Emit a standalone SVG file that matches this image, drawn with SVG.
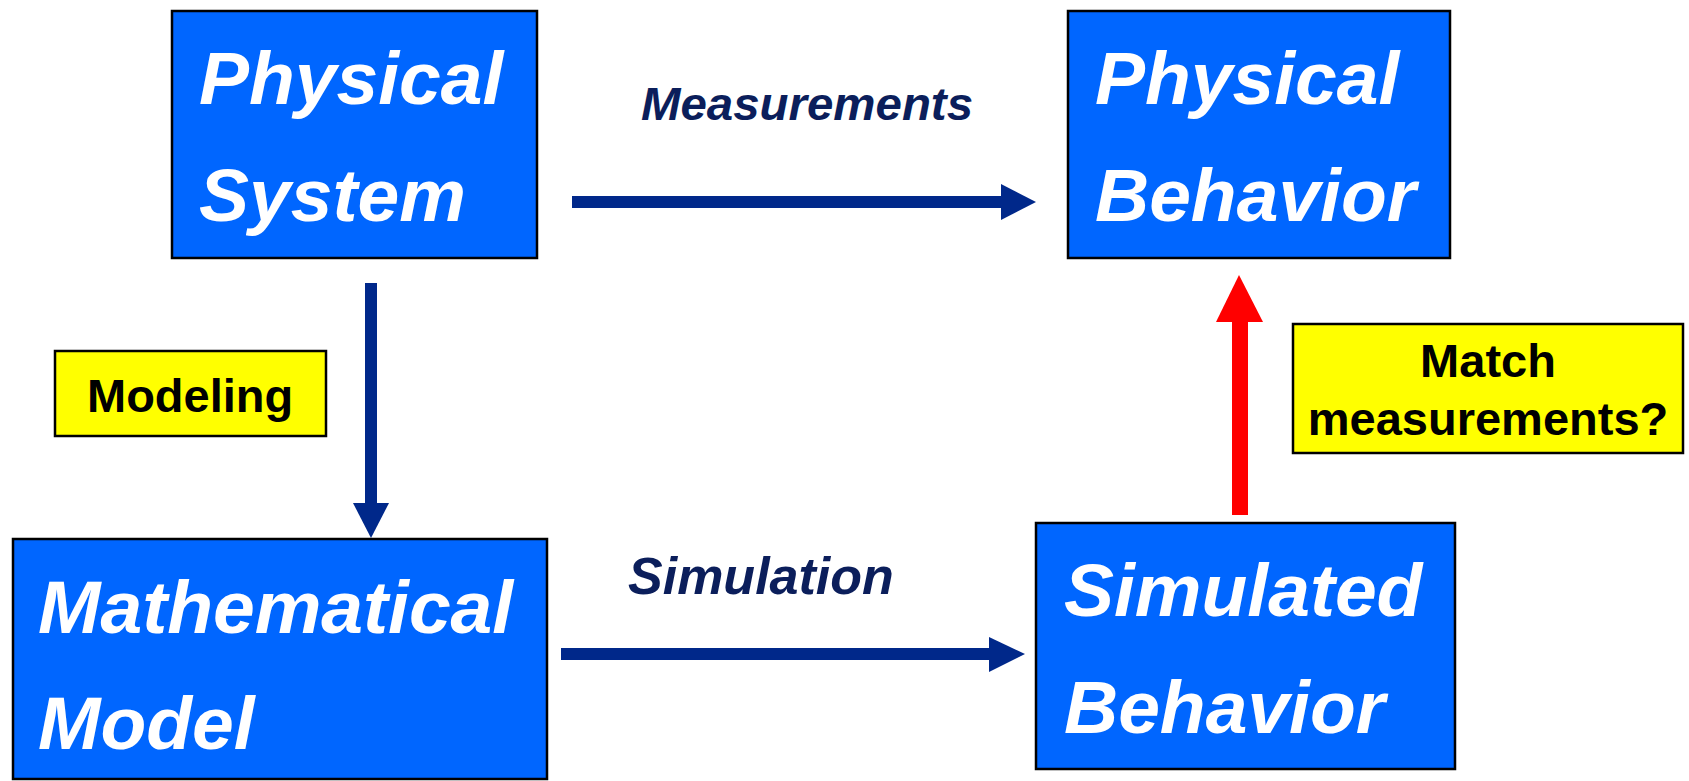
<svg xmlns="http://www.w3.org/2000/svg" width="1689" height="781" viewBox="0 0 1689 781">
  <style>
    .box { fill: #0066FF; stroke: #000; stroke-width: 2.5; }
    .note { fill: #FFFF00; stroke: #000; stroke-width: 2.5; }
    .big { font-family: "Liberation Sans", Arial, sans-serif; font-weight: bold; font-style: italic; font-size: 75px; fill: #fff; }
    .lbl { font-family: "Liberation Sans", Arial, sans-serif; font-weight: bold; font-style: italic; fill: #0B1E5B; }
    .ntxt { font-family: "Liberation Sans", Arial, sans-serif; font-weight: bold; font-size: 47px; fill: #000; }
    .navy { fill: #00288A; }
    .red { fill: #FF0000; }
  </style>
  <rect width="1689" height="781" fill="#fff"/>
  <g id="connectors">
    <g id="measurements-arrow">
      <rect class="navy" x="572" y="196" width="430" height="12"/>
      <polygon class="navy" points="1001,184 1036,202 1001,220"/>
      <text class="lbl" x="641" y="120" font-size="47" textLength="332" lengthAdjust="spacingAndGlyphs">Measurements</text>
    </g>
    <g id="simulation-arrow">
      <rect class="navy" x="561" y="648" width="429" height="12"/>
      <polygon class="navy" points="989,637 1025,654 989,672"/>
      <text class="lbl" x="628" y="594" font-size="52">Simulation</text>
    </g>
    <g id="modeling-arrow">
      <rect class="navy" x="365" y="283" width="12" height="221"/>
      <polygon class="navy" points="353,503 389,503 371,538"/>
    </g>
    <g id="match-arrow">
      <rect class="red" x="1232" y="320" width="16" height="195"/>
      <polygon class="red" points="1216,322 1263,322 1239,275"/>
    </g>
  </g>
  <g id="physical-system">
    <rect class="box" x="172" y="11" width="365" height="247"/>
    <text class="big" x="199" y="104">Physical</text>
    <text class="big" x="199" y="221">System</text>
  </g>
  <g id="physical-behavior">
    <rect class="box" x="1068" y="11" width="382" height="247"/>
    <text class="big" x="1095" y="104">Physical</text>
    <text class="big" x="1095" y="221">Behavior</text>
  </g>
  <g id="mathematical-model">
    <rect class="box" x="13" y="539" width="534" height="240"/>
    <text class="big" x="38" y="633">Mathematical</text>
    <text class="big" x="38" y="749">Model</text>
  </g>
  <g id="simulated-behavior">
    <rect class="box" x="1036" y="523" width="419" height="246"/>
    <text class="big" x="1064" y="616">Simulated</text>
    <text class="big" x="1064" y="733">Behavior</text>
  </g>
  <g id="modeling-note">
    <rect class="note" x="55" y="351" width="271" height="85"/>
    <text class="ntxt" x="87" y="412">Modeling</text>
  </g>
  <g id="match-note">
    <rect class="note" x="1293" y="324" width="390" height="129"/>
    <text class="ntxt" x="1488" y="377" text-anchor="middle">Match</text>
    <text class="ntxt" x="1488" y="435" text-anchor="middle">measurements?</text>
  </g>
</svg>
